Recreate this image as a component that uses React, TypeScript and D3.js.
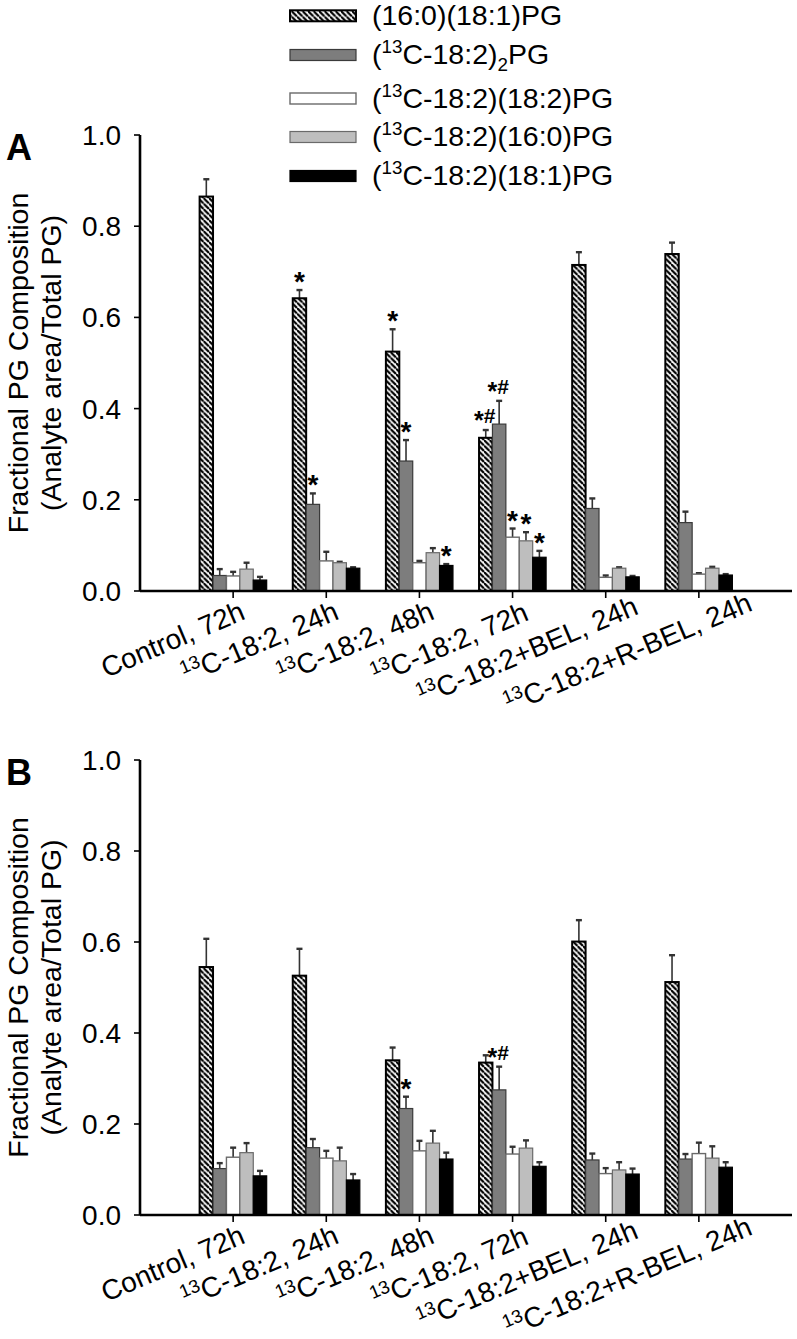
import React from "react";
import * as d3 from "d3";

// ---------- DATA ----------
const categories = [
  "Control, 72h",
  "13C-18:2, 24h",
  "13C-18:2, 48h",
  "13C-18:2, 72h",
  "13C-18:2+BEL, 24h",
  "13C-18:2+R-BEL, 24h",
];

const seriesNames = [
  "(16:0)(18:1)PG",
  "(13C-18:2)2PG",
  "(13C-18:2)(18:2)PG",
  "(13C-18:2)(16:0)PG",
  "(13C-18:2)(18:1)PG",
];

const yTicks = [0, 0.2, 0.4, 0.6, 0.8, 1.0];

// Panel A means / SEM (per series, across categories)
const aPalmOle = [0.865, 0.642, 0.525, 0.336, 0.715, 0.739];
const aPalmOleErr = [0.038, 0.018, 0.049, 0.017, 0.028, 0.025];
const aDiLino = [0.034, 0.19, 0.285, 0.366, 0.181, 0.15];
const aDiLinoErr = [0.014, 0.024, 0.046, 0.051, 0.022, 0.024];
const aLinoLino = [0.033, 0.066, 0.062, 0.118, 0.03, 0.037];
const aLinoLinoErr = [0.009, 0.02, 0.004, 0.019, 0.004, 0.002];
const aLinoPalm = [0.048, 0.062, 0.084, 0.11, 0.05, 0.05];
const aLinoPalmErr = [0.014, 0.002, 0.01, 0.019, 0.002, 0.003];
const aLinoOle = [0.024, 0.05, 0.056, 0.074, 0.031, 0.035];
const aLinoOleErr = [0.007, 0.002, 0.003, 0.014, 0.002, 0.002];

// Panel B
const bPalmOle = [0.545, 0.526, 0.34, 0.335, 0.601, 0.512];
const bPalmOleErr = [0.062, 0.059, 0.028, 0.016, 0.047, 0.059];
const bDiLino = [0.102, 0.148, 0.234, 0.275, 0.121, 0.123];
const bDiLinoErr = [0.012, 0.019, 0.026, 0.051, 0.014, 0.011];
const bLinoLino = [0.127, 0.125, 0.141, 0.134, 0.091, 0.135];
const bLinoLinoErr = [0.021, 0.016, 0.022, 0.016, 0.012, 0.024];
const bLinoPalm = [0.137, 0.119, 0.158, 0.147, 0.099, 0.125];
const bLinoPalmErr = [0.021, 0.029, 0.027, 0.017, 0.017, 0.026];
const bLinoOle = [0.086, 0.077, 0.123, 0.107, 0.09, 0.105];
const bLinoOleErr = [0.011, 0.013, 0.014, 0.009, 0.012, 0.011];

// significance marks: [category index, series index, mark]
const aMarks: [number, number, string][] = [
  [1, 0, "*"], [1, 1, "*"],
  [2, 0, "*"], [2, 1, "*"], [2, 4, "*"],
  [3, 0, "*#"], [3, 1, "*#"], [3, 2, "*"], [3, 3, "*"], [3, 4, "*"],
];
const bMarks: [number, number, string][] = [
  [2, 1, "*"],
  [3, 1, "*#"],
];

// ---------- STYLE / LAYOUT ----------
const FONT = "'Liberation Sans', Arial, Helvetica, sans-serif";
const fills = ["url(#hatch)", "#7d7d7d", "#ffffff", "#bebebe", "#000000"];
const strokes = ["#000", "#3a3a3a", "#6a6a6a", "#6a6a6a", "#000"];
const strokeW = [2, 1.2, 1.4, 1.2, 1.2];
// label end-point offsets from (tick, axis) – as placed in the original figure
const labelDX = [13.5, 14, 16.5, 17.5, 34, 55];
const labelDY = [27.5, 27.5, 27.5, 28.5, 22.5, 19];
const LABEL_ANGLE = -23;

const W = 797;
const H = 1339;
const X0 = 140;
const X1 = 792;

function renderRich(label: string, size: number) {
  const parts: React.ReactNode[] = [];
  const re = /(13C)|(\)2P)/g;
  let last = 0;
  let m: RegExpExecArray | null;
  let k = 0;
  const small = size * 0.66;
  while ((m = re.exec(label))) {
    if (m.index > last) parts.push(<tspan key={k++} fontSize={size}>{label.slice(last, m.index)}</tspan>);
    if (m[1]) {
      parts.push(<tspan key={k++} fontSize={small} dy={-size * 0.37}>13</tspan>);
      parts.push(<tspan key={k++} fontSize={size} dy={size * 0.37}>C</tspan>);
    } else {
      parts.push(<tspan key={k++} fontSize={size}>)</tspan>);
      parts.push(<tspan key={k++} fontSize={small} dy={size * 0.25}>2</tspan>);
      parts.push(<tspan key={k++} fontSize={size} dy={-size * 0.25}>P</tspan>);
    }
    last = m.index + m[0].length;
  }
  if (last < label.length) parts.push(<tspan key={k++} fontSize={size}>{label.slice(last)}</tspan>);
  return parts;
}

type PanelProps = {
  letter: string;
  yTop: number;
  yBottom: number;
  means: number[][];
  errs: number[][];
  marks: [number, number, string][];
};

function Panel({ letter, yTop, yBottom, means, errs, marks }: PanelProps) {
  const y = d3.scaleLinear().domain([0, 1]).range([yBottom, yTop]);
  const x = d3.scaleLinear().domain([0, categories.length + 1]).range([X0, X1]);
  const step = x(1) - x(0);
  const groupW = step * 0.72;
  const inner = d3
    .scaleBand<number>()
    .domain(d3.range(seriesNames.length))
    .range([-groupW / 2, groupW / 2])
    .padding(0);
  const bw = inner.bandwidth();
  const midY = (yTop + yBottom) / 2;

  return (
    <g>
      <text x={6} y={yTop + 25} fontSize={36} fontWeight="bold" fontFamily={FONT}>
        {letter}
      </text>
      <g transform={`translate(28,${midY}) rotate(-90)`}>
        <text textAnchor="middle" fontSize={28.5} fontFamily={FONT}>Fractional PG Composition</text>
      </g>
      <g transform={`translate(61,${midY}) rotate(-90)`}>
        <text textAnchor="middle" fontSize={28.5} fontFamily={FONT}>(Analyte area/Total PG)</text>
      </g>
      {categories.map((c, ci) => {
        const cx = x(ci + 1);
        return (
          <g key={c}>
            {seriesNames.map((s, si) => {
              const v = means[si][ci];
              const e = errs[si][ci];
              const bx = cx + (inner(si) as number);
              const top = y(v);
              const et = y(v + e);
              const mx = bx + bw / 2;
              return (
                <g key={s}>
                  <line x1={mx} x2={mx} y1={top} y2={et} stroke="#333" strokeWidth={1.6} />
                  <line x1={mx - 3} x2={mx + 3} y1={et} y2={et} stroke="#333" strokeWidth={2.4} />
                  <rect
                    x={bx}
                    y={top}
                    width={bw}
                    height={yBottom - top}
                    fill={fills[si]}
                    stroke={strokes[si]}
                    strokeWidth={strokeW[si]}
                  />
                </g>
              );
            })}
          </g>
        );
      })}
      {marks.map(([ci, si, mk], i) => {
        const cx = x(ci + 1) + (inner(si) as number) + bw / 2;
        const et = y(means[si][ci] + errs[si][ci]);
        const cy = et - 15;
        if (mk === "*") {
          return (
            <text key={i} x={cx} y={cy + 16} textAnchor="middle" fontSize={28} fontWeight="bold" fontFamily={FONT}>
              *
            </text>
          );
        }
        return (
          <text key={i} x={cx - 1} y={cy + 8} textAnchor="middle" fontSize={21} fontWeight="bold" fontFamily={FONT}>
            <tspan fontSize={25} dy={6}>*</tspan>
            <tspan dy={-6}>#</tspan>
          </text>
        );
      })}
      <line x1={X0} x2={X0} y1={y(1)} y2={y(0)} stroke="#000" strokeWidth={2.6} />
      {yTicks.map((t) => (
        <g key={t}>
          <line x1={X0 - 6} x2={X0} y1={y(t)} y2={y(t)} stroke="#000" strokeWidth={1.6} />
          <text x={121} y={y(t) + 10} textAnchor="end" fontSize={28} fontFamily={FONT}>
            {d3.format(".1f")(t)}
          </text>
        </g>
      ))}
      <line x1={X0} x2={X1} y1={yBottom} y2={yBottom} stroke="#000" strokeWidth={2.6} />
      {categories.map((c, ci) => {
        const cx = x(ci + 1);
        return (
          <g key={"t" + c}>
            <line x1={cx} x2={cx} y1={yBottom} y2={yBottom + 7} stroke="#000" strokeWidth={1.6} />
            <text
              transform={`translate(${cx + labelDX[ci]},${yBottom + labelDY[ci]}) rotate(${LABEL_ANGLE})`}
              textAnchor="end"
              fontFamily={FONT}
              fontSize={28}
            >
              {renderRich(c, 28)}
            </text>
          </g>
        );
      })}
    </g>
  );
}

const legendRowsY = [15.8, 55, 98.5, 137, 176];

export default function App() {
  const aMeans = [aPalmOle, aDiLino, aLinoLino, aLinoPalm, aLinoOle];
  const aErrs = [aPalmOleErr, aDiLinoErr, aLinoLinoErr, aLinoPalmErr, aLinoOleErr];
  const bMeans = [bPalmOle, bDiLino, bLinoLino, bLinoPalm, bLinoOle];
  const bErrs = [bPalmOleErr, bDiLinoErr, bLinoLinoErr, bLinoPalmErr, bLinoOleErr];
  return (
    <svg width={W} height={H} style={{ position: "absolute", left: 0, top: 0, background: "#fff" }}>
      <defs>
        <pattern id="hatch" patternUnits="userSpaceOnUse" width={5.5} height={5.5}>
          <rect width={5.5} height={5.5} fill="#fff" />
          <path d="M-1,-1 L6.5,6.5 M-5.5,0 L0,5.5 M0,-5.5 L5.5,0" stroke="#000" strokeWidth={2.2} />
        </pattern>
      </defs>
      <rect width={W} height={H} fill="#fff" />
      <Panel letter="A" yTop={135} yBottom={591} means={aMeans} errs={aErrs} marks={aMarks} />
      <Panel letter="B" yTop={760} yBottom={1215} means={bMeans} errs={bErrs} marks={bMarks} />
      {seriesNames.map((s, si) => {
        const cy = legendRowsY[si];
        return (
          <g key={s}>
            <rect
              x={290}
              y={cy - 5.5}
              width={66}
              height={11}
              fill={fills[si]}
              stroke={strokes[si]}
              strokeWidth={strokeW[si]}
            />
            <text x={372} y={cy + 9} fontSize={28.5} fontFamily={FONT}>
              {renderRich(s, 28.5)}
            </text>
          </g>
        );
      })}
    </svg>
  );
}
